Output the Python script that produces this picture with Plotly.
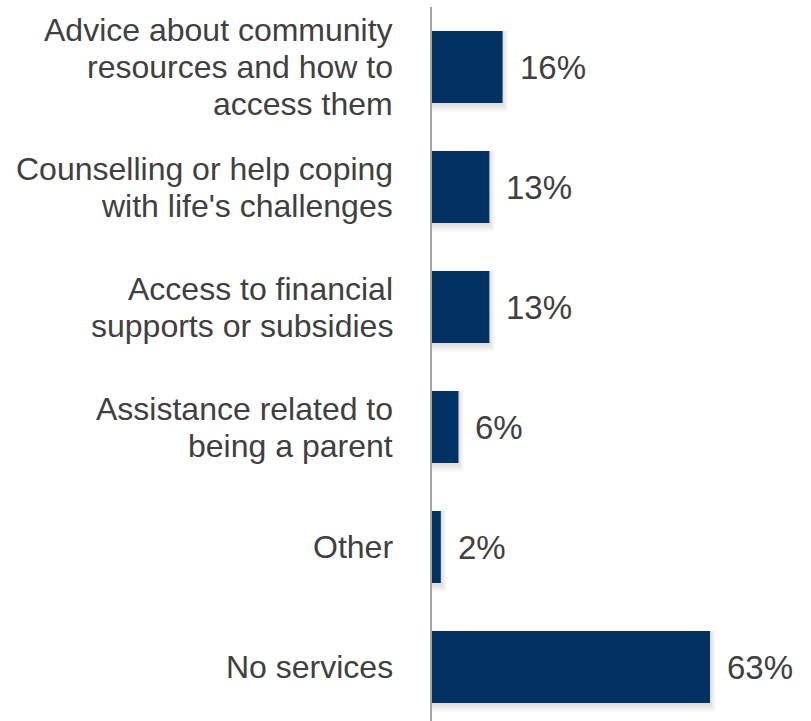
import plotly.graph_objects as go

# Services respondents reported using (share of respondents, %)
categories = [
    "Advice about community resources and how to access them",
    "Counselling or help coping with life's challenges",
    "Access to financial supports or subsidies",
    "Assistance related to being a parent",
    "Other",
    "No services",
]
category_lines = [
    ["Advice about community", "resources and how to", "access them"],
    ["Counselling or help coping", "with life's challenges"],
    ["Access to financial", "supports or subsidies"],
    ["Assistance related to", "being a parent"],
    ["Other"],
    ["No services"],
]
values = [16, 13, 13, 6, 2, 63]
value_labels = ["16%", "13%", "13%", "6%", "2%", "63%"]

BAR_COLOR = "#003263"
TEXT_COLOR = "#404040"
FONT = "Liberation Sans, Arial, sans-serif"
LABEL_SIZE = 32
VALUE_SIZE = 33
LINE_GAP = 37  # px between wrapped label lines

fig = go.Figure()

# soft drop shadow under each bar, built from a few translucent layers
for grow, shift, alpha in [(1.2, 0.07, 0.035), (0.8, 0.05, 0.04), (0.4, 0.03, 0.05)]:
    fig.add_trace(go.Bar(
        x=[v + grow for v in values],
        y=categories,
        orientation="h",
        width=0.6 + shift,
        offset=-0.3,
        marker=dict(color=f"rgba(0,0,0,{alpha})", line=dict(width=0)),
        hoverinfo="skip",
        showlegend=False,
    ))

fig.add_trace(go.Bar(
    x=values,
    y=categories,
    orientation="h",
    width=0.6,
    offset=-0.3,
    marker=dict(color=BAR_COLOR, line=dict(width=0)),
    showlegend=False,
))

# value labels just past each bar end
for c, v, lab in zip(categories, values, value_labels):
    fig.add_annotation(
        x=v, y=c, text=lab, showarrow=False,
        xanchor="left", yanchor="middle", xshift=15,
        font=dict(family=FONT, size=VALUE_SIZE, color=TEXT_COLOR),
    )

# category labels, one annotation per wrapped line for tight line spacing
for c, lines in zip(categories, category_lines):
    n = len(lines)
    for i, line in enumerate(lines):
        fig.add_annotation(
            x=0, y=c, text=line, showarrow=False,
            xanchor="right", yanchor="middle",
            xshift=-37, yshift=-(i - (n - 1) / 2) * LINE_GAP,
            font=dict(family=FONT, size=LABEL_SIZE, color=TEXT_COLOR),
        )

fig.update_layout(
    width=811,
    height=721,
    margin=dict(l=432, r=26, t=7, b=0),
    paper_bgcolor="white",
    plot_bgcolor="white",
    barmode="overlay",
    font=dict(family=FONT, size=LABEL_SIZE, color=TEXT_COLOR),
    xaxis=dict(range=[0, 80], visible=False, fixedrange=True),
    yaxis=dict(
        type="category",
        categoryorder="array",
        categoryarray=categories,
        range=[5.45, -0.5],
        showline=True,
        linecolor="#a6a6a6",
        linewidth=2,
        showgrid=False,
        zeroline=False,
        ticks="",
        showticklabels=False,
    ),
)

fig.write_html("out.html")
